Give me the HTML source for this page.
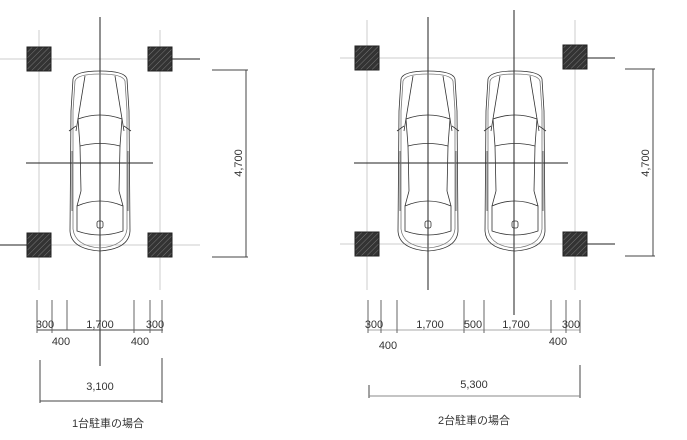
<!DOCTYPE html>
<html><head><meta charset="utf-8"><style>
html,body{margin:0;padding:0;background:#fff;}
svg{display:block;}
text{font-family:"Liberation Sans","Noto Sans CJK JP",sans-serif;fill:#333;}
</style></head><body>
<svg width="687" height="440" viewBox="0 0 687 440" xmlns="http://www.w3.org/2000/svg">
<defs>
<pattern id="h" width="4" height="4" patternUnits="userSpaceOnUse" patternTransform="rotate(45)">
<rect width="4" height="4" fill="#333"/><line x1="0" y1="0" x2="0" y2="4" stroke="#777" stroke-width="1"/>
</pattern>
<g id="car" fill="none" stroke="#333" stroke-width="0.8">
<path d="M6,8 Q8,0 33,0 Q58,0 60,8 L62,40 L63,160 Q62,178 33,180 Q4,178 3,160 L4,40 Z"/>
<path d="M8,10 Q10,3 33,3 Q56,3 58,10 L60,40 L60,158 Q58,175 33,177 Q8,175 6,158 L6,40 Z" stroke="#777"/>
<path d="M18,5 L9,60 M48,5 L57,60"/>
<path d="M11,48 Q33,40 55,48 L53,75 Q33,70 13,75 Z"/>
<path d="M13,75 L14,120 M53,75 L52,120"/>
<path d="M10,135 Q33,125 56,135 L56,160 Q33,168 10,160 Z"/>
<path d="M14,120 L10,135 M52,120 L56,135"/>
<path d="M2,60 L9,55 M64,60 L57,55"/>
<rect x="30" y="150" width="6" height="7" rx="2"/>
<path d="M5,80 L5,140 M61,80 L61,140" stroke="#555"/>
</g>
</defs>
<g stroke="#ccc" stroke-width="1">
<line x1="39" y1="30" x2="39" y2="290"/><line x1="160" y1="30" x2="160" y2="290"/>
<line x1="0" y1="59" x2="200" y2="59"/><line x1="0" y1="245" x2="200" y2="245"/>
<line x1="367" y1="20" x2="367" y2="290"/><line x1="575" y1="20" x2="575" y2="290"/>
<line x1="340" y1="58" x2="615" y2="58"/><line x1="340" y1="244" x2="615" y2="244"/>
</g>
<g stroke="#222" stroke-width="1">
<line x1="100" y1="17" x2="100" y2="366"/>
<line x1="26" y1="163" x2="153" y2="163"/>
<line x1="428" y1="17" x2="428" y2="290"/>
<line x1="514" y1="10" x2="514" y2="315"/>
<line x1="354" y1="163" x2="568" y2="163"/>
<line x1="165" y1="59" x2="200" y2="59"/><line x1="0" y1="245" x2="30" y2="245"/>
<line x1="580" y1="58" x2="615" y2="58"/><line x1="580" y1="244" x2="615" y2="244"/>
</g>
<g fill="url(#h)" stroke="#222">
<rect x="27" y="47" width="24" height="24"/><rect x="148" y="47" width="24" height="24"/>
<rect x="27" y="233" width="24" height="24"/><rect x="148" y="233" width="24" height="24"/>
<rect x="355" y="46" width="24" height="24"/><rect x="563" y="45" width="24" height="24"/>
<rect x="355" y="232" width="24" height="24"/><rect x="563" y="232" width="24" height="24"/>
</g>
<use href="#car" x="67" y="71"/>
<use href="#car" x="395" y="71"/>
<use href="#car" x="482" y="71"/>
<g stroke="#444" stroke-width="1">
<line x1="246" y1="70" x2="246" y2="257"/><line x1="212" y1="70" x2="248" y2="70"/><line x1="212" y1="257" x2="248" y2="257"/>
<line x1="653" y1="69" x2="653" y2="256"/><line x1="625" y1="69" x2="655" y2="69"/><line x1="625" y1="256" x2="655" y2="256"/>
<line x1="37" y1="330" x2="163" y2="330"/>
<g stroke="#666"><line x1="37" y1="300" x2="37" y2="333"/><line x1="52" y1="300" x2="52" y2="333"/><line x1="67" y1="300" x2="67" y2="330"/><line x1="134" y1="300" x2="134" y2="333"/><line x1="150" y1="300" x2="150" y2="333"/><line x1="162" y1="300" x2="162" y2="333"/></g>
<line x1="40" y1="360" x2="40" y2="403"/><line x1="162" y1="358" x2="162" y2="403"/><line x1="40" y1="401" x2="162" y2="401"/>
<line x1="368" y1="330" x2="580" y2="330" stroke="#aaa"/>
<g stroke="#666"><line x1="368" y1="300" x2="368" y2="333"/><line x1="381" y1="300" x2="381" y2="333"/><line x1="397" y1="300" x2="397" y2="333"/><line x1="464" y1="300" x2="464" y2="333"/><line x1="484" y1="300" x2="484" y2="333"/><line x1="551" y1="300" x2="551" y2="333"/><line x1="566" y1="300" x2="566" y2="333"/><line x1="580" y1="300" x2="580" y2="333"/></g>
<line x1="369" y1="385" x2="369" y2="398"/><line x1="580" y1="365" x2="580" y2="398"/><line x1="369" y1="396" x2="580" y2="396" stroke="#888"/>
</g>
<g font-size="11">
<text x="238" y="163" transform="rotate(-90 238 163)" text-anchor="middle" dy="4">4,700</text>
<text x="645" y="163" transform="rotate(-90 645 163)" text-anchor="middle" dy="4">4,700</text>
<text x="45" y="328" text-anchor="middle">300</text>
<text x="100" y="328" text-anchor="middle">1,700</text>
<text x="155" y="328" text-anchor="middle">300</text>
<text x="61" y="345" text-anchor="middle">400</text>
<text x="140" y="345" text-anchor="middle">400</text>
<text x="100" y="390" text-anchor="middle">3,100</text>
<text x="374" y="328" text-anchor="middle">300</text>
<text x="430" y="328" text-anchor="middle">1,700</text>
<text x="473" y="328" text-anchor="middle">500</text>
<text x="516" y="328" text-anchor="middle">1,700</text>
<text x="571" y="328" text-anchor="middle">300</text>
<text x="388" y="349" text-anchor="middle">400</text>
<text x="558" y="345" text-anchor="middle">400</text>
<text x="474" y="388" text-anchor="middle">5,300</text>
<text x="108" y="427" text-anchor="middle">1台駐車の場合</text>
<text x="474" y="424" text-anchor="middle">2台駐車の場合</text>
</g>
</svg>
</body></html>
